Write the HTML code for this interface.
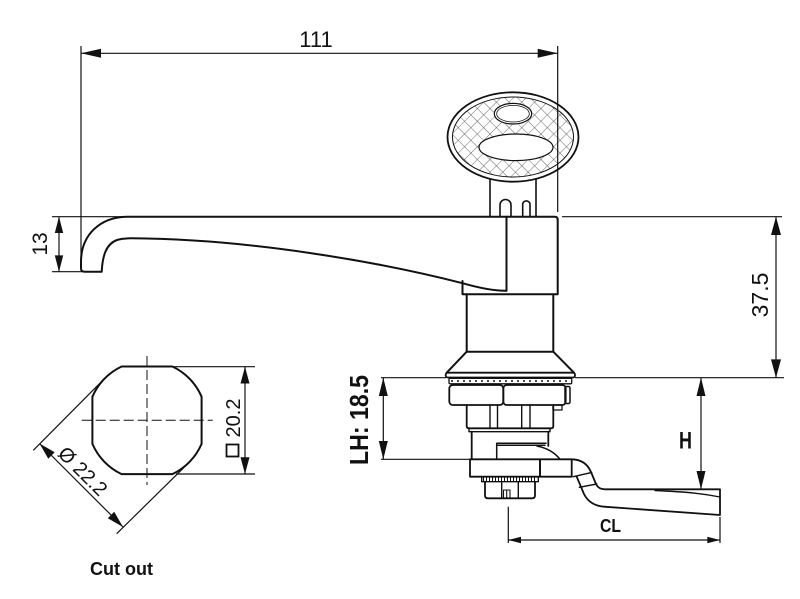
<!DOCTYPE html>
<html>
<head>
<meta charset="utf-8">
<style>
html,body{margin:0;padding:0;background:#fff;}
svg{display:block;}
text{font-family:"Liberation Sans",sans-serif;fill:#111;}
</style>
</head>
<body>
<svg width="800" height="599" viewBox="0 0 800 599" xmlns="http://www.w3.org/2000/svg">
<defs>
  <pattern id="hatch" width="9" height="9" patternUnits="userSpaceOnUse" patternTransform="rotate(45)">
    <path d="M0,0 H9 M0,0 V9" stroke="#333" stroke-width="0.7" fill="none"/>
  </pattern>
  <mask id="km">
    <ellipse cx="513" cy="137" rx="60.5" ry="40" fill="#fff"/>
    <ellipse cx="513" cy="113.7" rx="19.5" ry="11" fill="#000"/>
    <ellipse cx="516" cy="147.3" rx="37.5" ry="13.8" fill="#000"/>
  </mask>
</defs>
<rect width="800" height="599" fill="#fff"/>

<g fill="none" stroke="#111" stroke-linejoin="round" stroke-linecap="round">
  <!-- KEY -->
  <rect x="440" y="85" width="145" height="110" fill="url(#hatch)" mask="url(#km)" stroke="none"/>
  <ellipse cx="513" cy="137" rx="65.5" ry="44.7" stroke-width="1.8"/>
  <ellipse cx="513" cy="137" rx="60.5" ry="40" stroke-width="1"/>
  <ellipse cx="513" cy="113.7" rx="18.7" ry="10.3" stroke-width="1.2"/>
  <ellipse cx="513" cy="113.7" rx="16.3" ry="8.3" stroke-width="0.8"/>
  <ellipse cx="516" cy="147.3" rx="37" ry="13.3" stroke-width="1.2"/>
  <path d="M490,179 V216.7 M536,179 V216.7" stroke-width="1.6"/>
  <path d="M500,216.7 V205 A5.5,5.5 0 0 1 511,205 V216.7" stroke-width="1.6"/>
  <path d="M522.7,216.7 V204 A3.7,3.7 0 0 1 530,204 V216.7" stroke-width="1.6"/>

  <!-- LEVER -->
  <path d="M557.7,219.7 Q557.7,216.7 554.7,216.7 L127,216.7 C100,217 81,235 81,262 L81,268.5 Q81,271.7 84.5,271.7 L101.7,271.7 C102.5,256 106,244 117,240 Q123,238.3 131.7,238.3 C250,239 380,262 463,283.3 Q490,291 506.5,290.7" stroke-width="2"/>
  <path d="M506.5,216.7 V290.7" stroke-width="2"/>
  <path d="M557.7,219.7 V294.3 H462.5 V281" stroke-width="2"/>

  <!-- NECK & CONE -->
  <path d="M466.7,294.3 V351.7 M553.3,294.3 V351.7" stroke-width="2"/>
  <path d="M466.7,351.7 H553.3 L574,372.7 M466.7,351.7 L446.7,372.7" stroke-width="2"/>
  <rect x="445.7" y="372.7" width="129.3" height="4.8" rx="2" stroke-width="1.8"/>
  <!-- washer -->
  <rect x="449" y="378.3" width="122.7" height="5.5" rx="1" stroke-width="1.3"/>
  <path d="M451,381 H570" stroke-width="1.5" stroke-dasharray="2,4" stroke-linecap="butt"/>
  <!-- nut -->
  <rect x="449.3" y="385" width="54" height="20" rx="3.5" stroke-width="1.8"/>
  <rect x="503.3" y="385" width="62.4" height="20" rx="3.5" stroke-width="1.8"/>
  <rect x="565" y="386.5" width="5" height="17" rx="1.5" stroke-width="1.5"/>
  <rect x="553" y="405" width="9" height="5" stroke-width="1.3"/>
  <!-- body cylinder -->
  <path d="M466.7,405 V426 Q466.7,428.3 469,428.3 H551 Q553.3,428.3 553.3,426 V405" stroke-width="1.8"/>
  <path d="M490,405 V428.3 M497.5,405 V428.3 M521.7,405 V428.3 M530,405 V428.3" stroke-width="1.4"/>
  <path d="M469,428.3 V431.7 H550 V428.3" stroke-width="1.4"/>
  <!-- lower body -->
  <path d="M471.7,431.7 V459.3 M548.3,431.7 V446" stroke-width="1.8"/>
  <path d="M496.7,459.3 V443.3 H546 M498,445.3 H545" stroke-width="1.5"/>
  <path d="M537,446 Q552,449 560,459.3" stroke-width="1.5"/>
  <!-- cam plate -->
  <rect x="470" y="459.3" width="70" height="17.4" stroke-width="1.8"/>
  <rect x="540" y="459.3" width="31.7" height="17.4" stroke-width="1.8"/>
  <!-- arm -->
  <path d="M571.7,459.3 C582,459.5 588,465 591,472 L596,484 C598,488 601,489.3 606,489.3 L720,489.3 L720,515 L604,506.7 C595,506 588,502 584,494 L576.7,476.7" stroke-width="1.8"/>
  <path d="M573.3,476.7 L591.7,472.4 M579.3,487.3 L596.7,484" stroke-width="1.4"/>
  <path d="M655,490.5 C690,492 705,494 720,497" stroke-width="1.4"/>
  <!-- knurled ring -->
  <rect x="481.7" y="476.7" width="56.6" height="5" stroke-width="1.4"/>
  <path d="M483,479.2 H537" stroke-width="4" stroke-dasharray="1,2" stroke-linecap="butt"/>
  <!-- bottom nut -->
  <path d="M485,481.7 V495.5 Q485,498.3 488,498.3 H532 Q535,498.3 535,495.5 V481.7" stroke-width="1.8"/>
  <path d="M501.7,481.7 V498.3 M518.3,481.7 V498.3" stroke-width="1.4"/>
  <path d="M503.5,498.3 V490 H510 V498.3 M506.7,490 V498.3" stroke-width="1.1"/>

  <!-- CUT OUT SHAPE -->
  <path d="M121.6,366.5 H172.4 A59.5,59.5 0 0 1 201.6,396.7 V443.9 A59.5,59.5 0 0 1 172.4,474.1 H121.6 A59.5,59.5 0 0 1 92.4,443.9 V396.7 A59.5,59.5 0 0 1 121.6,366.5 Z" stroke-width="2"/>
  <path d="M81.7,420.3 H212.7 M147,356 V485" stroke-width="1" stroke-dasharray="10,4" stroke-linecap="butt"/>
</g>

<!-- DIMENSION LINES -->
<g fill="none" stroke="#111" stroke-width="1.2">
  <path d="M81,53.3 H557.7 M81,46 V268 M557.7,46 V212"/>
  <path d="M59,216.7 V271.7 M52,216.7 H127 M52,271.7 H84"/>
  <path d="M776,216.7 V377.7 M562,216.7 H782"/>
  <path d="M381,377.7 H446 M575,377.7 H784"/>
  <path d="M383.3,377.7 V459.3 M381,459.3 H471"/>
  <path d="M701,377.7 V489.3"/>
  <path d="M508.3,540 H720 M508.3,506.7 V543 M720,517 V543"/>
  <path d="M245,366.7 V474 M174,366.7 H255 M176,474 H255"/>
  <path d="M39.5,443.5 L123,527 M104.9,378.2 L33.3,450.3 M189.1,462.4 L116.7,533.7"/>
</g>

<!-- ARROWHEADS -->
<g fill="#111" stroke="none">
  <path d="M81,53.3 L101,48.8 L101,57.8Z"/>
  <path d="M557.7,53.3 L537.7,48.8 L537.7,57.8Z"/>
  <path d="M59,216.7 L54.8,233 L63.2,233Z"/>
  <path d="M59,271.7 L54.8,255.4 L63.2,255.4Z"/>
  <path d="M776,216.7 L771,235 L781,235Z"/>
  <path d="M776,377.7 L771,359.4 L781,359.4Z"/>
  <path d="M383.3,377.7 L378.8,396 L387.8,396Z"/>
  <path d="M383.3,459.3 L378.8,441 L387.8,441Z"/>
  <path d="M701,377.7 L696.5,396 L705.5,396Z"/>
  <path d="M701,489.3 L696.5,471 L705.5,471Z"/>
  <path d="M508.3,540 L521,536.8 L521,543.2Z"/>
  <path d="M720,540 L707.3,536.8 L707.3,543.2Z"/>
  <path d="M245,366.7 L240.5,383.5 L249.5,383.5Z"/>
  <path d="M245,474 L240.5,457.2 L249.5,457.2Z"/>
  <path d="M39.5,443.5 L54.7,452.3 L48.3,458.7Z"/>
  <path d="M123,527 L107.8,518.2 L114.2,511.8Z"/>
</g>

<!-- TEXT -->
<text x="316" y="47" font-size="22" text-anchor="middle">111</text>
<text transform="translate(47,244) rotate(-90)" font-size="21" text-anchor="middle">13</text>
<text transform="translate(768,295) rotate(-90)" font-size="23" text-anchor="middle">37.5</text>
<text transform="translate(240,418) rotate(-90)" font-size="20" text-anchor="middle">20.2</text>
<rect x="226.5" y="444.5" width="12" height="12" fill="none" stroke="#111" stroke-width="1.8"/>
<text transform="translate(78,476) rotate(45)" font-size="20" text-anchor="middle">Ø 22.2</text>
<text transform="translate(368,465) rotate(-90)" font-size="26" font-weight="bold" textLength="90" lengthAdjust="spacingAndGlyphs">LH: 18.5</text>
<text x="679" y="448.3" font-size="24" font-weight="bold" textLength="13" lengthAdjust="spacingAndGlyphs">H</text>
<text x="600" y="532" font-size="18" font-weight="bold" textLength="21" lengthAdjust="spacingAndGlyphs">CL</text>
<text x="90" y="575" font-size="18" font-weight="bold" textLength="63" lengthAdjust="spacingAndGlyphs">Cut out</text>
</svg>
</body>
</html>
